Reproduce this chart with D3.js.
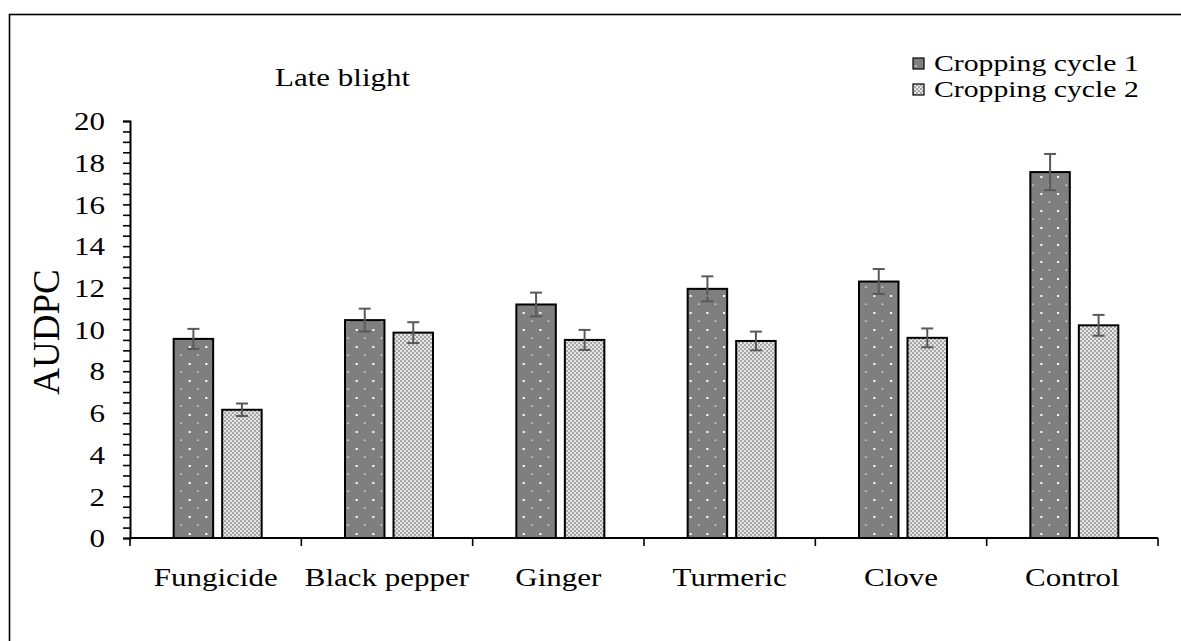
<!DOCTYPE html>
<html><head><meta charset="utf-8">
<script src="https://cdn.jsdelivr.net/npm/d3@7"></script>
<style>body{margin:0;background:#fff}svg{display:block}text{font-family:"Liberation Serif","Times New Roman",serif;fill:#000}</style>
</head><body>
<script>
const categories = ["Fungicide","Black pepper","Ginger","Turmeric","Clove","Control"];
const seriesNames = ["Cropping cycle 1","Cropping cycle 2"];
const cycle1 = [9.55,10.45,11.2,11.95,12.3,17.55];
const cycle1Err = [0.48,0.55,0.57,0.6,0.6,0.87];
const cycle2 = [6.15,9.85,9.5,9.45,9.6,10.2];
const cycle2Err = [0.3,0.5,0.48,0.45,0.45,0.5];
const yTicks = [0,2,4,6,8,10,12,14,16,18,20];
const yLabel = "AUDPC";
const title = "Late blight";

(function(){
const W=1181,H=641, SX=1.24;
const svg=d3.select("body").append("svg").attr("width",W).attr("height",H);
const defs=svg.append("defs");
const p1=defs.append("pattern").attr("id","pat1").attr("patternUnits","userSpaceOnUse").attr("width",16.7).attr("height",17).attr("x",2).attr("y",3);
p1.append("rect").attr("width",16.7).attr("height",17).attr("fill","#7f7f7f");
p1.append("rect").attr("x",3).attr("y",3).attr("width",2).attr("height",2).attr("fill","#fff");
p1.append("rect").attr("x",11.5).attr("y",11.5).attr("width",1.3).attr("height",1.3).attr("fill","#fff");
const p2=defs.append("pattern").attr("id","pat2").attr("patternUnits","userSpaceOnUse").attr("width",4).attr("height",4);
p2.append("rect").attr("width",4).attr("height",4).attr("fill","#e6e6e6");
p2.append("rect").attr("x",0).attr("y",0).attr("width",2).attr("height",2).attr("fill","#a6a6a6");
p2.append("rect").attr("x",2).attr("y",2).attr("width",2).attr("height",2).attr("fill","#a6a6a6");

svg.append("rect").attr("x",9.5).attr("y",14.5).attr("width",1200).attr("height",700).attr("fill","none").attr("stroke","#000").attr("stroke-width",1.6);

const mL=130,mR=1158,mT=121,mB=538;
const x0=d3.scaleBand().domain(categories).range([mL,mR]).padding(0);
const y=d3.scaleLinear().domain([0,20]).range([mB,mT]);
const bw=x0.bandwidth();
const x1=d3.scaleBand().domain(seriesNames).range([bw/2-44+2,bw/2+44+2]).paddingInner(0.186).paddingOuter(0);

const data=[cycle1,cycle2], errs=[cycle1Err,cycle2Err], pats=["url(#pat1)","url(#pat2)"];
seriesNames.forEach((s,si)=>{
  svg.append("g").selectAll("rect").data(categories).join("rect")
    .attr("x",(c)=>x0(c)+x1(s)).attr("width",x1.bandwidth())
    .attr("y",(c,i)=>y(data[si][i])).attr("height",(c,i)=>y(0)-y(data[si][i]))
    .attr("fill",pats[si]).attr("stroke","#000").attr("stroke-width",2);
});
seriesNames.forEach((s,si)=>{
  const eg=svg.append("g").attr("stroke","#595959").attr("stroke-width",2);
  categories.forEach((c,i)=>{
    const cx=x0(c)+x1(s)+x1.bandwidth()/2;
    const v=data[si][i],e=errs[si][i];
    eg.append("line").attr("x1",cx).attr("x2",cx).attr("y1",y(v+e)).attr("y2",y(v-e));
    eg.append("line").attr("x1",cx-6).attr("x2",cx+6).attr("y1",y(v+e)).attr("y2",y(v+e));
    eg.append("line").attr("x1",cx-6).attr("x2",cx+6).attr("y1",y(v-e)).attr("y2",y(v-e));
  });
});

const minor=d3.range(0,20.01,0.5);
const ya=svg.append("g").attr("transform",`translate(${mL},0)`);
ya.call(d3.axisLeft(y).tickValues(minor).tickSize(7).tickFormat(""));
ya.select(".domain").attr("stroke-width",2);
ya.selectAll(".tick line").attr("stroke-width",1.6);
const yl=svg.append("g").attr("transform",`translate(${mL},0)`);
yl.call(d3.axisLeft(y).tickValues(yTicks).tickSize(0).tickFormat(d3.format("d")));
yl.select(".domain").remove();
yl.selectAll("text").attr("x",0).attr("dy","0.35em").attr("transform",`translate(-25,0) scale(${SX},1)`)
  .style("font-size","25px").style("font-family","Liberation Serif").attr("fill","#000");

const xa=svg.append("g").attr("transform",`translate(0,${mB})`);
xa.call(d3.axisBottom(x0).tickSize(0));
xa.select(".domain").attr("stroke-width",2).attr("d",`M${mL},0H${mR}`);
xa.selectAll("text").attr("y",0).attr("dy","0.35em").attr("transform",`translate(0,39) scale(${SX},1)`)
  .style("font-size","25px").style("font-family","Liberation Serif").attr("fill","#000");
const bounds=[...categories.map(c=>x0(c)),mR];
svg.append("g").selectAll("line").data(bounds).join("line")
  .attr("x1",d=>d).attr("x2",d=>d).attr("y1",mB).attr("y2",mB+8).attr("stroke","#000").attr("stroke-width",1.6);

svg.append("text").attr("transform","translate(59,332) rotate(-90)").attr("text-anchor","middle").style("font-size","37px").text(yLabel);
svg.append("text").attr("transform",`translate(275,86) scale(${SX},1)`).style("font-size","25px").text(title);
seriesNames.forEach((s,i)=>{
  const ly=58+i*26;
  svg.append("rect").attr("x",913).attr("y",ly).attr("width",11).attr("height",11).attr("fill",pats[i]).attr("stroke","#000").attr("stroke-width",1.2);
  svg.append("text").attr("transform",`translate(934,${ly+13}) scale(${SX},1)`).style("font-size","24px").text(s);
});
})();
</script>
</body></html>
